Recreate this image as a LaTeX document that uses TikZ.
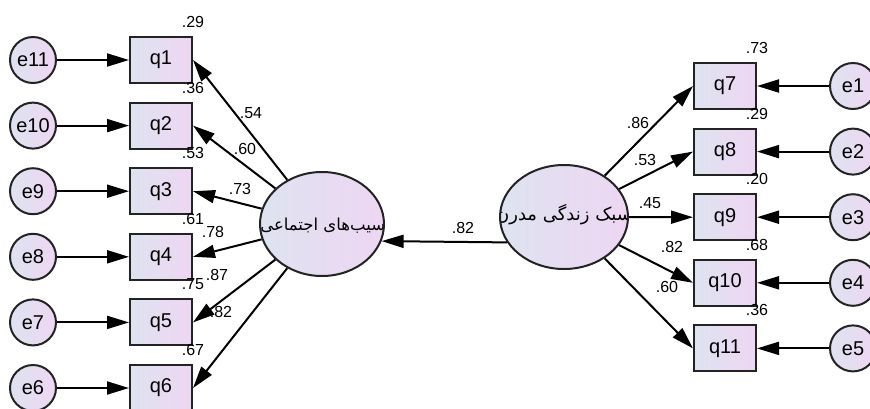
\documentclass[tikz,border=0pt]{standalone}
\usepackage{fontspec}
\setmainfont{Liberation Sans}
\newfontfamily\fafont[Script=Arabic]{DejaVu Sans}
\TeXXeTstate=1
\usetikzlibrary{arrows.meta,shapes.geometric}

\definecolor{gradA}{RGB}{222,227,240}
\definecolor{gradB}{RGB}{238,214,243}
\definecolor{bord}{RGB}{35,35,35}

\tikzset{
 obs/.style={draw=bord, line width=2pt, left color=gradA, right color=gradB,
   minimum width=62pt, minimum height=46pt, inner sep=0pt,
   font=\fontsize{20}{20}\selectfont},
 err/.style={circle, draw=bord, line width=2pt, left color=gradA, right color=gradB,
   minimum size=46pt, inner sep=0pt, font=\fontsize{20}{20}\selectfont},
 lat/.style={ellipse, draw=bord, line width=2pt, left color=gradA, right color=gradB,
   minimum height=104pt, inner sep=0pt},
 arr/.style={line width=2pt, -{Triangle[length=22pt,width=13pt]}},
 num/.style={font=\fontsize{16}{16}\selectfont, inner sep=0pt},
 fatext/.style={inner sep=0pt, text=black},
}

\begin{document}
\begin{tikzpicture}[x=1pt,y=-1pt]
\useasboundingbox (0,0) rectangle (870,408);

% left block
\node[err] (e11) at (33,60) {e11};   \node[obs] (q1) at (161,60) {q1};
\node[err] (e10) at (33,125.6) {e10}; \node[obs] (q2) at (161,125.6) {q2};
\node[err] (e9) at (33,191.2) {e9};   \node[obs] (q3) at (161,191.2) {q3};
\node[err] (e8) at (33,256.8) {e8};   \node[obs] (q4) at (161,256.8) {q4};
\node[err] (e7) at (33,322.4) {e7};   \node[obs] (q5) at (161,322.4) {q5};
\node[err] (e6) at (33,388) {e6};     \node[obs] (q6) at (161,388) {q6};

% right block
\node[obs] (q7) at (725,86) {q7};      \node[err] (e1) at (853,86) {e1};
\node[obs] (q8) at (725,151.6) {q8};   \node[err] (e2) at (853,151.6) {e2};
\node[obs] (q9) at (725,217.2) {q9};   \node[err] (e3) at (853,217.2) {e3};
\node[obs] (q10) at (725,282.8) {q10}; \node[err] (e4) at (853,282.8) {e4};
\node[obs] (q11) at (725,348.4) {q11}; \node[err] (e5) at (853,348.4) {e5};

% latent variables
\node[lat, minimum width=124pt,
  path picture={\node[fatext, font=\fafont\fontsize{16.5}{16.5}\selectfont]
    at ([xshift=3pt]path picture bounding box.center)
    {\beginR آسیب‌های اجتماعی\endR};}] (L) at (322,224) {};
\node[lat, minimum width=128pt,
  path picture={\node[fatext, font=\fafont\fontsize{18}{18}\selectfont]
    at ([yshift=2pt]path picture bounding box.center)
    {\beginR سبک زندگی مدرن\endR};}] (R) at (564,217) {};

% error arrows
\foreach \e/\q in {e11/q1,e10/q2,e9/q3,e8/q4,e7/q5,e6/q6,e1/q7,e2/q8,e3/q9,e4/q10,e5/q11}
  \draw[arr] (\e) -- (\q);

% loadings
\foreach \q in {q1,q2,q3,q4,q5,q6}
  \draw[arr] (L) -- (\q.east);
\foreach \q in {q7,q8,q9,q10,q11}
  \draw[arr] (R) -- (\q.west);

% structural path
\draw[arr] (R.204) -- (L.-16);

% squared multiple correlations
\node[num] (v1) at ([yshift=14pt]q1.north east) {.29};
\node[num] (v2) at ([yshift=14pt]q2.north east) {.36};
\node[num] (v3) at ([yshift=14pt]q3.north east) {.53};
\node[num] (v4) at ([yshift=14pt]q4.north east) {.61};
\node[num] (v5) at ([yshift=14pt]q5.north east) {.75};
\node[num] (v6) at ([yshift=14pt]q6.north east) {.67};
\node[num] (v7) at ([yshift=14pt]q7.north east) {.73};
\node[num] (v8) at ([yshift=14pt]q8.north east) {.29};
\node[num] (v9) at ([yshift=14pt]q9.north east) {.20};
\node[num] (v10) at ([yshift=14pt]q10.north east) {.68};
\node[num] (v11) at ([yshift=14pt]q11.north east) {.36};

% path coefficients
\node[num] (c1) at (251,113) {.54};
\node[num] (c2) at (245,149) {.60};
\node[num] (c3) at (240,189) {.73};
\node[num] (c4) at (213,232) {.78};
\node[num] (c5) at (217,275) {.87};
\node[num] (c6) at (221,312) {.82};
\node[num] (c0) at (463,228) {.82};
\node[num] (c7) at (638,123) {.86};
\node[num] (c8) at (645,160) {.53};
\node[num] (c9) at (650,203) {.45};
\node[num] (c10) at (672,247) {.82};
\node[num] (c11) at (667,287) {.60};
\end{tikzpicture}
\end{document}
